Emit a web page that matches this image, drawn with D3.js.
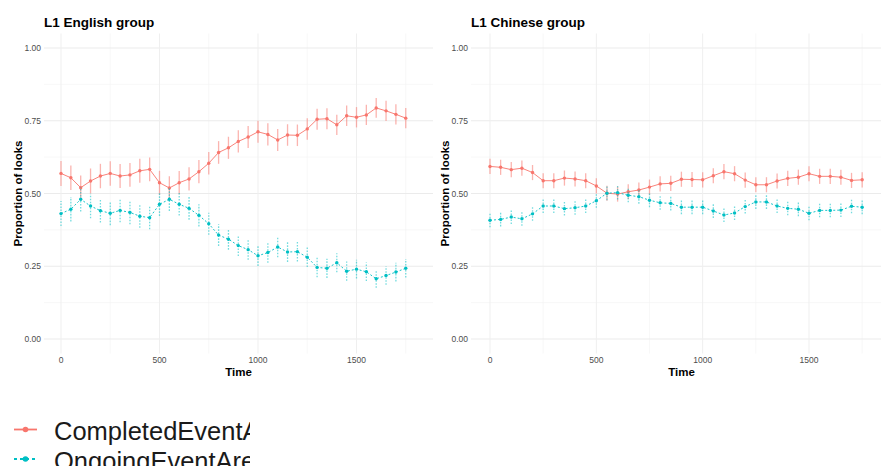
<!DOCTYPE html>
<html><head><meta charset="utf-8">
<script src="https://cdn.jsdelivr.net/npm/d3@7"></script>
<style>body{margin:0;background:#fff}svg{display:block;font-family:"Liberation Sans",Arial,sans-serif}</style>
</head><body><svg id="c" width="881" height="466"></svg>
<script>
const times = [0,50,100,150,200,250,300,350,400,450,500,550,600,650,700,750,800,850,900,950,1000,1050,1100,1150,1200,1250,1300,1350,1400,1450,1500,1550,1600,1650,1700,1750];
const groups = ["L1 English group","L1 Chinese group"];
const seriesNames = ["CompletedEventArea","OngoingEventArea"];
const englishCompleted = [0.569,0.554,0.520,0.543,0.560,0.569,0.560,0.564,0.578,0.583,0.537,0.519,0.537,0.550,0.575,0.604,0.641,0.657,0.679,0.694,0.712,0.703,0.684,0.701,0.700,0.722,0.755,0.757,0.736,0.767,0.762,0.770,0.794,0.784,0.772,0.759];
const englishCompletedSE = [0.043,0.042,0.042,0.043,0.042,0.042,0.041,0.041,0.041,0.041,0.041,0.040,0.040,0.040,0.040,0.039,0.039,0.038,0.038,0.038,0.038,0.038,0.038,0.037,0.037,0.037,0.036,0.036,0.035,0.035,0.035,0.035,0.034,0.035,0.035,0.035];
const englishOngoing = [0.431,0.446,0.480,0.457,0.441,0.432,0.442,0.435,0.422,0.417,0.463,0.480,0.463,0.449,0.425,0.396,0.357,0.343,0.321,0.307,0.286,0.297,0.316,0.299,0.300,0.281,0.246,0.243,0.262,0.233,0.240,0.231,0.207,0.218,0.230,0.243];
const englishOngoingSE = [0.043,0.042,0.042,0.042,0.041,0.041,0.041,0.041,0.040,0.040,0.040,0.040,0.039,0.039,0.038,0.038,0.037,0.036,0.036,0.035,0.035,0.035,0.035,0.034,0.034,0.034,0.034,0.033,0.033,0.033,0.032,0.032,0.031,0.032,0.032,0.032];
const chineseCompleted = [0.593,0.590,0.582,0.587,0.572,0.544,0.544,0.553,0.550,0.544,0.526,0.501,0.498,0.506,0.512,0.522,0.533,0.535,0.549,0.548,0.547,0.561,0.575,0.568,0.546,0.530,0.530,0.543,0.552,0.556,0.568,0.559,0.559,0.556,0.545,0.547];
const chineseCompletedSE = [0.026,0.026,0.026,0.026,0.026,0.026,0.026,0.026,0.026,0.026,0.026,0.026,0.026,0.026,0.026,0.026,0.026,0.026,0.026,0.026,0.026,0.026,0.026,0.026,0.026,0.026,0.026,0.026,0.026,0.026,0.026,0.026,0.026,0.026,0.026,0.026];
const chineseOngoing = [0.408,0.411,0.419,0.413,0.430,0.457,0.457,0.448,0.451,0.457,0.475,0.501,0.503,0.494,0.489,0.477,0.468,0.466,0.453,0.453,0.453,0.440,0.426,0.433,0.455,0.471,0.471,0.457,0.449,0.446,0.432,0.442,0.442,0.443,0.456,0.453];
const chineseOngoingSE = [0.024,0.024,0.024,0.024,0.024,0.024,0.024,0.024,0.024,0.024,0.024,0.024,0.024,0.024,0.024,0.024,0.024,0.024,0.024,0.024,0.024,0.024,0.024,0.024,0.024,0.024,0.024,0.024,0.024,0.024,0.024,0.024,0.024,0.024,0.024,0.024];
const xTicks = [0,500,1000,1500];
const xMinor = [250,750,1250,1750];
const yTicks = [0,0.25,0.5,0.75,1];
const yMinor = [0.125,0.375,0.625,0.875];
const colors = ["#F8766D","#00BFC4"];

const svg = d3.select("#c");
const y = d3.scaleLinear().domain([0,1]).range([339,48]);
const panels = [
  {title:groups[0], px:[44,433], x:d3.scaleLinear().domain([0,1500]).range([61,356.5]), tickEnd:41, ytx:18,
   series:[[englishCompleted,englishCompletedSE],[englishOngoing,englishOngoingSE]]},
  {title:groups[1], px:[471,892], x:d3.scaleLinear().domain([0,1500]).range([490,809]), tickEnd:468, ytx:445,
   series:[[chineseCompleted,chineseCompletedSE],[chineseOngoing,chineseOngoingSE]]}
];
const pTop=33.5, pBot=353.5;

panels.forEach(p=>{
  const g = svg.append("g");
  yMinor.forEach(v=>g.append("line").attr("x1",p.px[0]).attr("x2",p.px[1]).attr("y1",y(v)).attr("y2",y(v)).attr("stroke","#f3f3f3").attr("stroke-width",0.6));
  xMinor.forEach(v=>g.append("line").attr("x1",p.x(v)).attr("x2",p.x(v)).attr("y1",pTop).attr("y2",pBot).attr("stroke","#f3f3f3").attr("stroke-width",0.6));
  yTicks.forEach(v=>g.append("line").attr("x1",p.px[0]).attr("x2",p.px[1]).attr("y1",y(v)).attr("y2",y(v)).attr("stroke","#ebebeb").attr("stroke-width",1));
  xTicks.forEach(v=>g.append("line").attr("x1",p.x(v)).attr("x2",p.x(v)).attr("y1",pTop).attr("y2",pBot).attr("stroke","#efefef").attr("stroke-width",1));
  yTicks.forEach(v=>g.append("text").attr("x",p.tickEnd).attr("y",y(v)+3).attr("text-anchor","end").attr("font-size",8.5).attr("fill","#4d4d4d").text(v.toFixed(2)));
  xTicks.forEach(v=>g.append("text").attr("x",p.x(v)).attr("y",363).attr("text-anchor","middle").attr("font-size",8.5).attr("fill","#4d4d4d").text(v));
  g.append("text").attr("x",p.px[0]).attr("y",27).attr("font-size",13.5).attr("font-weight","bold").attr("fill","#000").text(p.title);
  g.append("text").attr("x",(p.px[0]+p.px[1])/2).attr("y",376).attr("text-anchor","middle").attr("font-size",11.5).attr("font-weight","bold").attr("fill","#000").text("Time");
  g.append("text").attr("transform",`translate(${p.ytx+4},${(pTop+pBot)/2}) rotate(-90)`).attr("text-anchor","middle").attr("font-size",11.5).attr("font-weight","bold").attr("fill","#000").text("Proportion of looks");
  p.series.forEach((s,si)=>{
    const [vals,se]=s;
    const pts = times.map((t,i)=>({t,v:vals[i],e:se[i]}));
    g.append("g").selectAll("line").data(pts).join("line")
      .attr("x1",d=>p.x(d.t)).attr("x2",d=>p.x(d.t))
      .attr("y1",d=>y(d.v-d.e)).attr("y2",d=>y(d.v+d.e))
      .attr("stroke",colors[si]).attr("stroke-opacity",0.55).attr("stroke-width",1.3)
      .attr("stroke-dasharray",si===1?"1.6,1.4":null);
    g.append("path").datum(pts)
      .attr("d",d3.line().x(d=>p.x(d.t)).y(d=>y(d.v)))
      .attr("fill","none").attr("stroke",colors[si]).attr("stroke-width",1).attr("stroke-opacity",0.9)
      .attr("stroke-dasharray",si===1?"2,2":null);
    g.append("g").selectAll("circle").data(pts).join("circle")
      .attr("cx",d=>p.x(d.t)).attr("cy",d=>y(d.v)).attr("r",1.7).attr("fill",colors[si]);
  });
});

// legend (clipped at the same place as the reference)
svg.append("clipPath").attr("id","lc").append("rect").attr("x",0).attr("y",390).attr("width",250).attr("height",80);
const lg = svg.append("g").attr("clip-path","url(#lc)");
seriesNames.forEach((n,i)=>{
  const ly = 429.5 + i*29.5;
  lg.append("line").attr("x1",14).attr("x2",37).attr("y1",ly).attr("y2",ly).attr("stroke",colors[i]).attr("stroke-width",1.8)
    .attr("stroke-dasharray",i===1?"3,3":null);
  lg.append("circle").attr("cx",25.5).attr("cy",ly).attr("r",2.8).attr("fill",colors[i]);
  lg.append("text").attr("x",54).attr("y",ly+10.5).attr("font-size",25.5).attr("fill","#1a1a1a").text(n);
});
</script></body></html>
